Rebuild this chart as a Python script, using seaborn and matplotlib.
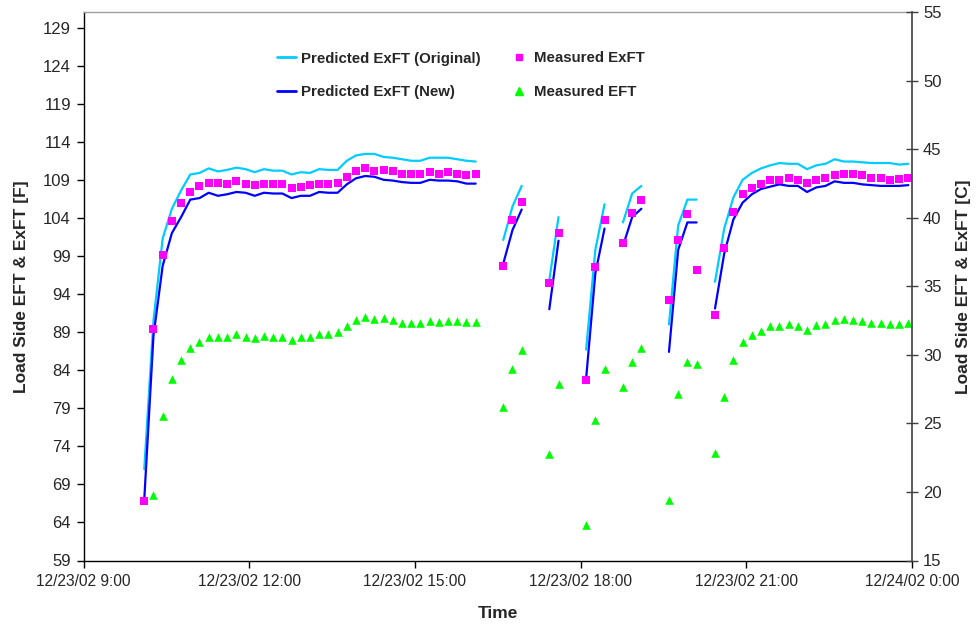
import numpy as np
import pandas as pd
import matplotlib
matplotlib.use("Agg")
import matplotlib.pyplot as plt
from matplotlib.lines import Line2D
import seaborn as sns

nan = np.nan

# 10-minute samples, 12/23/02 10:06 .. 23:56 (gaps = NaN)
times = pd.date_range("2002-12-23 10:06", "2002-12-23 23:56", freq="10min")

pred_original = [
    71.0, 90.5, 101.3, 105.2, 107.6, 109.7, 109.9, 110.5, 110.1, 110.3, 110.6, 110.4, 110.0, 110.4,
    110.2, 110.2, 109.7, 110.0, 109.9, 110.4, 110.3, 110.3, 111.5, 112.2, 112.4, 112.4, 112.0, 111.9,
    111.7, 111.5, 111.5, 111.9, 111.9, 111.9, 111.7, 111.5, 111.4,
    nan, nan, 101.1, 105.5, 108.2, nan, nan, 95.8, 104.1, nan, nan, 86.7, 99.8, 105.8,
    nan, 103.4, 107.2, 108.2, nan, nan, 90.0, 103.0, 106.4, 106.4, nan,
    95.6, 102.6, 106.7, 109.0, 109.9, 110.5, 110.9, 111.2, 111.1, 111.1, 110.4, 110.9, 111.1, 111.7,
    111.4, 111.4, 111.3, 111.2, 111.2, 111.2, 111.0, 111.1,
]
pred_new = [
    67.0, 88.5, 97.7, 102.0, 104.1, 106.4, 106.6, 107.3, 106.9, 107.1, 107.4, 107.3, 106.9, 107.3,
    107.2, 107.2, 106.6, 106.9, 106.9, 107.4, 107.3, 107.3, 108.4, 109.2, 109.5, 109.4, 109.0, 108.9,
    108.7, 108.6, 108.6, 109.0, 108.9, 108.9, 108.8, 108.5, 108.5,
    nan, nan, 98.0, 102.4, 105.1, nan, nan, 92.0, 101.0, nan, nan, 82.9, 96.7, 102.6,
    nan, 100.3, 104.1, 105.2, nan, nan, 86.4, 99.8, 103.4, 103.4, nan,
    92.1, 99.3, 103.8, 106.0, 107.1, 107.8, 108.1, 108.4, 108.2, 108.2, 107.4, 108.0, 108.2, 108.8,
    108.6, 108.6, 108.4, 108.3, 108.2, 108.2, 108.2, 108.3,
]
measured_exft = [
    66.8, 89.4, 99.1, 103.6, 106.0, 107.4, 108.2, 108.6, 108.6, 108.5, 108.8, 108.5, 108.3, 108.5,
    108.4, 108.4, 107.9, 108.1, 108.3, 108.4, 108.5, 108.6, 109.4, 110.2, 110.5, 110.2, 110.3, 110.2,
    109.7, 109.7, 109.7, 110.0, 109.8, 110.0, 109.8, 109.6, 109.7,
    nan, nan, 97.7, 103.7, 106.1, nan, nan, 95.5, 102.0, nan, nan, 82.7, 97.5, 103.7,
    nan, 100.7, 104.7, 106.3, nan, nan, 93.2, 101.1, 104.5, 97.2, nan,
    91.2, 100.1, 104.8, 107.1, 107.9, 108.4, 109.0, 109.0, 109.2, 109.0, 108.6, 109.0, 109.2, 109.6,
    109.8, 109.8, 109.6, 109.3, 109.3, 109.0, 109.1, 109.3,
]
measured_eft = [
    nan, 67.6, 78.0, 82.8, 85.3, 86.9, 87.7, 88.3, 88.3, 88.3, 88.7, 88.4, 88.2, 88.5,
    88.4, 88.4, 88.0, 88.3, 88.4, 88.7, 88.7, 89.0, 89.8, 90.6, 91.0, 90.7, 90.9, 90.6,
    90.2, 90.2, 90.2, 90.5, 90.3, 90.5, 90.4, 90.3, 90.3,
    nan, nan, 79.1, 84.2, 86.7, nan, nan, 73.0, 82.2, nan, nan, 63.6, 77.5, 84.1,
    nan, 81.8, 85.1, 86.9, nan, nan, 66.9, 80.9, 85.1, 84.8, nan,
    73.1, 80.5, 85.3, 87.7, 88.6, 89.1, 89.8, 89.8, 90.0, 89.8, 89.3, 89.9, 90.1, 90.6,
    90.7, 90.6, 90.5, 90.2, 90.2, 90.0, 90.1, 90.2,
]

left_ticks = [59, 64, 69, 74, 79, 84, 89, 94, 99, 104, 109, 114, 119, 124, 129]
right_ticks = [15, 20, 25, 30, 35, 40, 45, 50, 55]
x_ticks = ["2002-12-23 09:00", "2002-12-23 12:00", "2002-12-23 15:00",
           "2002-12-23 18:00", "2002-12-23 21:00", "2002-12-24 00:00"]

series_names = ["Predicted ExFT (Original)", "Predicted ExFT (New)", "Measured ExFT", "Measured EFT"]
c_orig, c_new, c_mexft, c_meft = "#00CCFF", "#0000FF", "#FF00FF", "#00FF00"

df = pd.DataFrame({"time": times, "orig": pred_original, "new": pred_new,
                   "mexft": measured_exft, "meft": measured_eft})
valid = df["orig"].notna()
df["segment"] = (valid != valid.shift()).cumsum()

sns.set_style("white")
plt.rcParams["font.family"] = ["Liberation Sans", "DejaVu Sans"]

fig = plt.figure(figsize=(9.76, 6.24), dpi=100)
ax = fig.add_axes([83.5 / 976, 1 - 560.5 / 624, (912 - 83.5) / 976, (560.5 - 12.3) / 624])

line_df = df[valid]
sns.lineplot(data=line_df, x="time", y="orig", units="segment", estimator=None,
             color=c_orig, linewidth=1.6, ax=ax)
sns.lineplot(data=line_df, x="time", y="new", units="segment", estimator=None,
             color=c_new, linewidth=1.6, ax=ax)
sns.scatterplot(data=df, x="time", y="mexft", marker="s", s=32, color=c_mexft,
                linewidth=0, ax=ax, zorder=4)
sns.scatterplot(data=df, x="time", y="meft", marker="^", s=38, color=c_meft,
                linewidth=0, ax=ax, zorder=4)

ax.set_xlim(pd.Timestamp(x_ticks[0]), pd.Timestamp(x_ticks[-1]))
ax.set_ylim(59, 131)
ax.set_yticks(left_ticks)
ax.set_yticklabels([str(t) for t in left_ticks], fontsize=12)
xt = [pd.Timestamp(t) for t in x_ticks]
ax.set_xticks(xt)
ax.set_xticklabels([f"{t.month}/{t.day}/{t:%y} {t.hour}:{t:%M}" for t in xt], fontsize=11.2)
ax.tick_params(axis="both", direction="out", length=5, width=1, color="black", pad=4)
ax.tick_params(axis="y", left=True)
ax.tick_params(axis="x", bottom=True, pad=5)
ax.set_xlabel("Time", fontsize=12.5, fontweight="bold", labelpad=12)
ax.set_ylabel("Load Side EFT & ExFT [F]", fontsize=12.5, fontweight="bold", labelpad=10)
for side in ["left", "bottom"]:
    ax.spines[side].set_color("black")
    ax.spines[side].set_linewidth(1)
ax.spines["top"].set_color("#A0A0A0")
ax.spines["top"].set_linewidth(1)
ax.spines["right"].set_visible(False)
ax.grid(False)

ax2 = ax.twinx()
ax2.set_ylim(15, 55)
ax2.set_yticks(right_ticks)
ax2.set_yticklabels([str(t) for t in right_ticks], fontsize=12)
ax2.tick_params(axis="y", direction="inout", length=8, width=1, color="#404040", right=True, pad=4)
ax2.spines["right"].set_color("#404040")
ax2.spines["right"].set_linewidth(1.2)
for side in ["left", "top", "bottom"]:
    ax2.spines[side].set_visible(False)
ax2.set_ylabel("Load Side EFT & ExFT [C]", fontsize=12.5, fontweight="bold", labelpad=10)
ax2.grid(False)

handles = [
    Line2D([], [], color=c_orig, linewidth=2),
    Line2D([], [], color=c_new, linewidth=2),
    Line2D([], [], color=c_mexft, marker="s", linestyle="none", markersize=5),
    Line2D([], [], color=c_meft, marker="^", linestyle="none", markersize=5.5),
]
fig.legend(handles, series_names, loc="upper left", bbox_to_anchor=(269 / 976, 1 - 44 / 624),
           ncol=2, frameon=False, borderpad=0, labelspacing=1.29, handlelength=1.33,
           handletextpad=0.3, columnspacing=1.9,
           prop={"weight": "bold", "size": 10.8, "family": "Liberation Sans"})

fig.savefig("out.png", dpi=100)
